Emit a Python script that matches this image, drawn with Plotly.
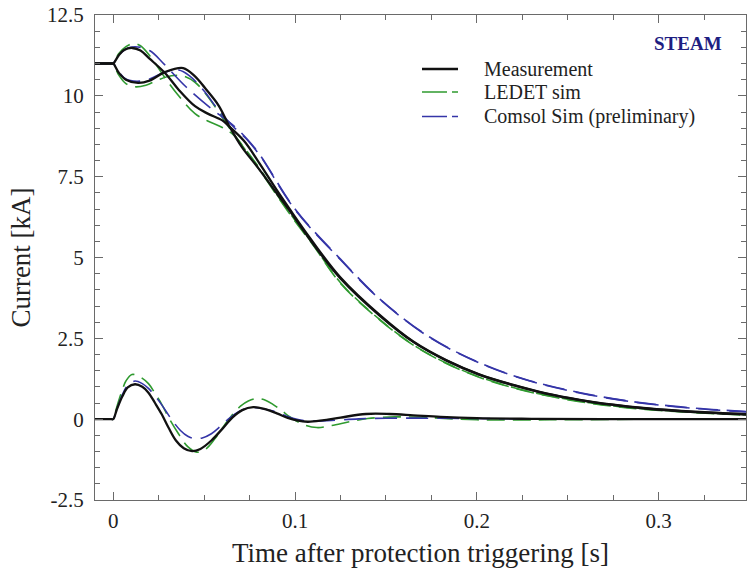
import plotly.graph_objects as go

# ---------------- data (time in s, current in kA) ----------------
t_meas_a = [-0.01, -0.001, 0, 0.003, 0.006, 0.0105, 0.015, 0.02, 0.0286, 0.036, 0.045, 0.052, 0.06, 0.064, 0.072, 0.08, 0.09, 0.097, 0.108, 0.125, 0.147, 0.165, 0.1833, 0.2016, 0.22, 0.238, 0.2566, 0.275, 0.293, 0.32, 0.35]
i_meas_a = [11.0, 11.0, 11.0, 11.25, 11.42, 11.48, 11.4, 11.15, 10.7, 10.19, 9.68, 9.45, 9.24, 9.04, 8.6, 7.95, 7.08, 6.5, 5.62, 4.38, 3.2, 2.4, 1.82, 1.38, 1.06, 0.8, 0.6, 0.45, 0.34, 0.23, 0.15]

t_meas_b = [-0.01, -0.001, 0, 0.003, 0.007, 0.0137, 0.02, 0.0286, 0.0385, 0.045, 0.0505, 0.058, 0.064, 0.0707, 0.08, 0.09, 0.097, 0.108, 0.125, 0.147, 0.165, 0.1833, 0.2016, 0.22, 0.238, 0.2566, 0.275, 0.293, 0.32, 0.35]
i_meas_b = [11.0, 11.0, 11.0, 10.72, 10.5, 10.4, 10.47, 10.74, 10.86, 10.6, 10.24, 9.7, 9.05, 8.42, 7.75, 6.98, 6.45, 5.57, 4.35, 3.18, 2.39, 1.81, 1.37, 1.05, 0.79, 0.59, 0.44, 0.33, 0.22, 0.14]

t_meas_d = [-0.01, -0.001, 0, 0.002, 0.005, 0.008, 0.012, 0.016, 0.0194, 0.023, 0.0267, 0.0304, 0.0345, 0.0388, 0.0434, 0.048, 0.054, 0.06, 0.0655, 0.071, 0.077, 0.083, 0.09, 0.096, 0.101, 0.107, 0.115, 0.125, 0.139, 0.152, 0.165, 0.18, 0.2, 0.23, 0.27, 0.35]
i_meas_d = [0.0, 0.0, 0.0, 0.3, 0.7, 0.98, 1.08, 1.0, 0.82, 0.5, 0.15, -0.26, -0.66, -0.9, -0.99, -0.92, -0.66, -0.3, 0.05, 0.28, 0.37, 0.32, 0.18, 0.04, -0.04, -0.08, -0.04, 0.05, 0.16, 0.16, 0.12, 0.07, 0.03, 0.01, 0.0, 0.0]

t_ledet_a = [-0.01, -0.001, 0, 0.003, 0.007, 0.011, 0.015, 0.02, 0.028, 0.036, 0.045, 0.052, 0.06, 0.066, 0.072, 0.08, 0.09, 0.1, 0.11, 0.125, 0.147, 0.165, 0.1833, 0.2016, 0.22, 0.238, 0.2566, 0.275, 0.293, 0.32, 0.35]
i_ledet_a = [11.0, 11.0, 11.0, 11.3, 11.52, 11.62, 11.55, 11.25, 10.6, 10.0, 9.45, 9.22, 9.02, 8.8, 8.4, 7.8, 6.95, 6.15, 5.4, 4.22, 3.06, 2.3, 1.73, 1.3, 0.98, 0.74, 0.55, 0.41, 0.31, 0.21, 0.13]

t_ledet_b = [-0.01, -0.001, 0, 0.003, 0.007, 0.012, 0.018, 0.025, 0.032, 0.038, 0.045, 0.052, 0.058, 0.064, 0.072, 0.08, 0.09, 0.1, 0.11, 0.125, 0.147, 0.165, 0.1833, 0.2016, 0.22, 0.238, 0.2566, 0.275, 0.293, 0.32, 0.35]
i_ledet_b = [11.0, 11.0, 11.0, 10.65, 10.38, 10.28, 10.33, 10.5, 10.62, 10.62, 10.42, 9.98, 9.5, 9.0, 8.38, 7.75, 6.92, 6.12, 5.38, 4.2, 3.05, 2.29, 1.72, 1.29, 0.97, 0.73, 0.54, 0.4, 0.3, 0.2, 0.12]

t_ledet_d = [-0.01, -0.001, 0, 0.002, 0.005, 0.007, 0.0103, 0.015, 0.0194, 0.023, 0.0267, 0.031, 0.036, 0.041, 0.046, 0.051, 0.056, 0.061, 0.065, 0.07, 0.0743, 0.079, 0.084, 0.088, 0.093, 0.097, 0.104, 0.112, 0.12, 0.13, 0.14, 0.155, 0.172, 0.2, 0.24, 0.3, 0.35]
i_ledet_d = [0.0, 0.0, 0.0, 0.38, 0.9, 1.18, 1.38, 1.3, 1.1, 0.8, 0.46, 0.0, -0.46, -0.85, -1.02, -0.92, -0.6, -0.2, 0.1, 0.4, 0.56, 0.64, 0.58, 0.45, 0.25, 0.08, -0.15, -0.26, -0.2, -0.08, 0.02, 0.07, 0.05, -0.02, -0.02, 0.0, 0.0]

t_comsol_a = [-0.01, -0.001, 0, 0.003, 0.007, 0.012, 0.02, 0.028, 0.04, 0.054, 0.067, 0.074, 0.081, 0.1, 0.125, 0.147, 0.174, 0.2016, 0.2255, 0.243, 0.262, 0.28, 0.293, 0.32, 0.35]
i_comsol_a = [11.0, 11.0, 11.0, 11.25, 11.45, 11.52, 11.4, 10.98, 10.28, 9.6, 9.04, 8.64, 8.15, 6.5, 4.95, 3.7, 2.54, 1.74, 1.25, 0.99, 0.76, 0.59, 0.49, 0.34, 0.23]

t_comsol_b = [-0.01, -0.001, 0, 0.003, 0.007, 0.013, 0.02, 0.028, 0.036, 0.042, 0.05, 0.058, 0.066, 0.074, 0.081, 0.1, 0.125, 0.147, 0.174, 0.2016, 0.2255, 0.243, 0.262, 0.28, 0.293, 0.32, 0.35]
i_comsol_b = [11.0, 11.0, 11.0, 10.75, 10.52, 10.45, 10.52, 10.72, 10.8, 10.62, 10.15, 9.55, 9.05, 8.62, 8.13, 6.48, 4.93, 3.69, 2.53, 1.73, 1.24, 0.98, 0.75, 0.58, 0.48, 0.33, 0.22]

t_comsol_d = [-0.01, -0.001, 0, 0.002, 0.005, 0.008, 0.012, 0.016, 0.0194, 0.023, 0.027, 0.032, 0.037, 0.041, 0.045, 0.049, 0.054, 0.059, 0.064, 0.069, 0.075, 0.081, 0.088, 0.095, 0.103, 0.11, 0.12, 0.135, 0.15, 0.175, 0.2, 0.25, 0.35]
i_comsol_d = [0.0, 0.0, 0.0, 0.3, 0.75, 1.05, 1.18, 1.1, 0.95, 0.72, 0.42, 0.0, -0.35, -0.53, -0.6, -0.58, -0.45, -0.22, 0.03, 0.23, 0.36, 0.34, 0.25, 0.1, -0.03, -0.06, -0.04, 0.01, 0.03, 0.03, 0.02, 0.0, 0.0]

series_names = ["Measurement", "LEDET sim", "Comsol Sim (preliminary)"]
x_tick_vals = [0, 0.1, 0.2, 0.3]
x_tick_text = ["0", "0.1", "0.2", "0.3"]
y_tick_vals = [-2.5, 0, 2.5, 5, 7.5, 10, 12.5]
y_tick_text = ["-2.5", "0", "2.5", "5", "7.5", "10", "12.5"]

# ---------------- styles ----------------
BLACK = "#111111"
GREEN = "#2f9a2f"
BLUE = "#3535a8"
SERIF = "Liberation Serif"

fig = go.Figure()

groups = [
    (series_names[0], [(t_meas_a, i_meas_a), (t_meas_b, i_meas_b), (t_meas_d, i_meas_d)],
     dict(color=BLACK, width=2.3, dash="solid", legdash="solid")),
    (series_names[1], [(t_ledet_a, i_ledet_a), (t_ledet_b, i_ledet_b), (t_ledet_d, i_ledet_d)],
     dict(color=GREEN, width=1.6, dash="18px,8px", legdash="25px,5px")),
    (series_names[2], [(t_comsol_a, i_comsol_a), (t_comsol_b, i_comsol_b), (t_comsol_d, i_comsol_d)],
     dict(color=BLUE, width=1.6, dash="22px,9px", legdash="25px,5px")),
]

order_draw = [1, 2, 0]
for gi in order_draw:
    name, curves, line = groups[gi]
    for k, (tx, iy) in enumerate(curves):
        fig.add_trace(go.Scatter(
            x=tx, y=iy, mode="lines", name=name, showlegend=False,
            line=dict(color=line["color"], width=line["width"], dash=line["dash"],
                      shape="spline", smoothing=1.0),
            hoverinfo="skip",
        ))

# ---------------- hand-placed legend (paper coords) ----------------
plot_l, plot_w, plot_t, plot_h = 95, 651, 15, 485
def px_x(px):
    return (px - plot_l) / plot_w
def px_y(py):
    return 1 - (py - plot_t) / plot_h

legend_rows_px = [69, 92, 116.5]
shapes = []
annotations = []
for (name, _, line), ry in zip(groups, legend_rows_px):
    shapes.append(dict(type="line", xref="paper", yref="paper",
                       x0=px_x(422), x1=px_x(458), y0=px_y(ry), y1=px_y(ry),
                       line=dict(color=line["color"], width=line["width"], dash=line["legdash"])))
    annotations.append(dict(text=name, xref="paper", yref="paper", x=px_x(482), y=px_y(ry),
                            xanchor="left", yanchor="middle", showarrow=False,
                            font=dict(family=SERIF, size=20, color="#222222")))
annotations.append(dict(
    text="<b>STEAM</b>", xref="paper", yref="paper", x=px_x(724), y=px_y(43),
    xanchor="right", yanchor="middle", showarrow=False,
    font=dict(family=SERIF, size=19, color="#1e1e82"),
))

axis_common = dict(
    showline=True, linecolor="#6a6a6a", linewidth=1.3, mirror="ticks",
    ticks="inside", ticklen=8, tickwidth=1.2, tickcolor="#6a6a6a",
    showgrid=False, zeroline=False,
    tickfont=dict(family=SERIF, size=21, color="#222222"),
)

fig.update_layout(
    width=749, height=577,
    margin=dict(l=plot_l, r=749 - plot_l - plot_w, t=plot_t, b=577 - plot_t - plot_h),
    paper_bgcolor="white", plot_bgcolor="white",
    showlegend=False,
    xaxis=dict(
        range=[-0.01, 0.348], tickvals=x_tick_vals, ticktext=x_tick_text,
        minor=dict(dtick=0.025, ticks="inside", ticklen=5, tickcolor="#6a6a6a", tickwidth=1),
        title=dict(text="Time after protection triggering [s]",
                   font=dict(family=SERIF, size=27, color="#222222"), standoff=10),
        ticklabelstandoff=2,
        **axis_common,
    ),
    yaxis=dict(
        range=[-2.5, 12.5], tickvals=y_tick_vals, ticktext=y_tick_text,
        minor=dict(dtick=0.5, ticks="inside", ticklen=5, tickcolor="#6a6a6a", tickwidth=1),
        title=dict(text="Current [kA]",
                   font=dict(family=SERIF, size=27, color="#222222"), standoff=8),
        ticklabelstandoff=6,
        **axis_common,
    ),
    shapes=shapes,
    annotations=annotations,
)

fig.write_html("out.html")
